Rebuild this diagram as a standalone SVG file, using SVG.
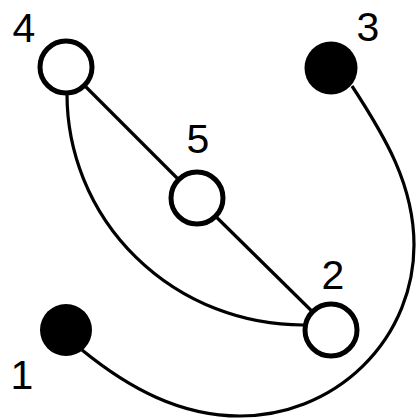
<svg xmlns="http://www.w3.org/2000/svg" width="416" height="419" viewBox="0 0 416 419">
<style>
.edge{fill:none;stroke:#000;stroke-width:3.2}
.open{fill:#fff;stroke:#000;stroke-width:5}
.filled{fill:#000;stroke:none}
.lbl{font-family:"Liberation Sans",Arial,sans-serif;font-size:41px;fill:#000;text-anchor:middle}
</style>
<rect width="416" height="419" fill="#fff"/>
<g id="connectors">
<line class="edge" x1="66" y1="67" x2="197" y2="198"/>
<line class="edge" x1="197" y1="198" x2="331" y2="330"/>
<path class="edge" d="M67,94 A236,231 0 0 0 303,325 L331,330"/>
<path class="edge" d="M352,86 C384.8,136.2 414,185 414,245 A174,171 0 0 1 240,416 C180,416 128.5,387.9 82,350"/>
</g>
<g id="node4"><circle class="open" cx="66" cy="67" r="26"/><text class="lbl" x="24" y="42">4</text></g>
<g id="node3"><circle class="filled" cx="331" cy="68" r="26.5"/><text class="lbl" x="368" y="41">3</text></g>
<g id="node5"><circle class="open" cx="197" cy="198" r="26"/><text class="lbl" x="198" y="153">5</text></g>
<g id="node2"><circle class="open" cx="331" cy="330" r="26"/><text class="lbl" x="333" y="289">2</text></g>
<g id="node1"><circle class="filled" cx="66" cy="330" r="26"/><text class="lbl" x="22" y="389">1</text></g>
</svg>
